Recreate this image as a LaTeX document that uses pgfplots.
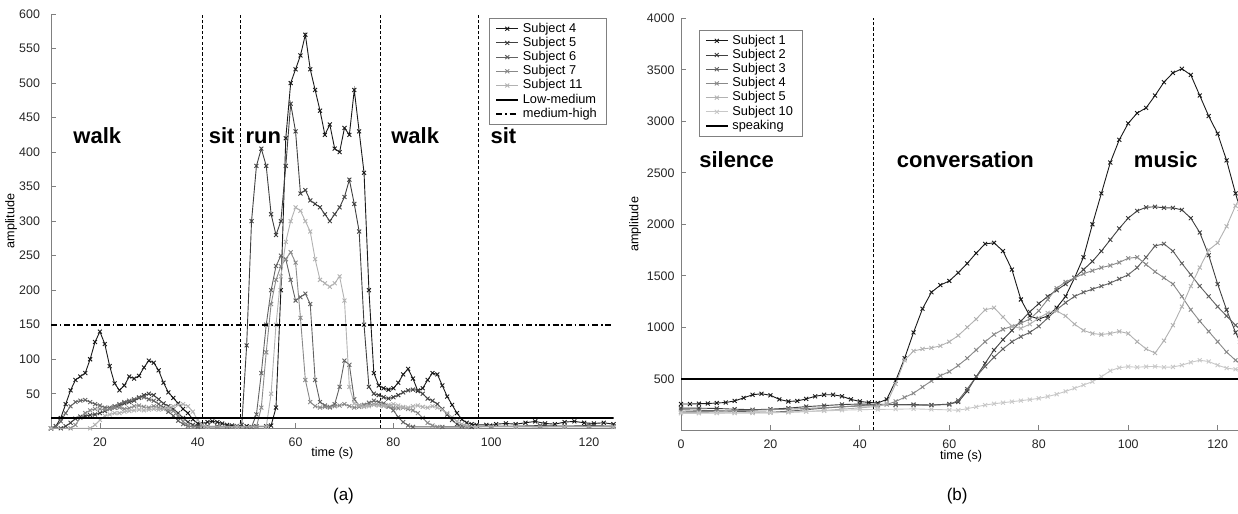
\documentclass[border=0pt]{standalone}
\usepackage{fontspec}
\setmainfont{Liberation Sans}
\usepackage{pgfplots}
\pgfplotsset{compat=1.18}

\definecolor{ga}{HTML}{1A1A1A}
\definecolor{gb}{HTML}{404040}
\definecolor{gc}{HTML}{626262}
\definecolor{gd}{HTML}{898989}
\definecolor{ge}{HTML}{B2B2B2}
\definecolor{gf}{HTML}{C8C8C8}
\definecolor{axisgray}{HTML}{808080}

\tikzset{phase/.style={font=\fontsize{11}{13}\selectfont\bfseries, inner sep=0pt}}

\pgfplotsset{
  panel/.style={
    scale only axis,
    clip mode=individual,
    axis x line*=bottom, axis y line*=left,
    axis line style={axisgray, line width=0.5pt},
    tick align=inside,
    major tick length=2.5pt,
    tick style={axisgray, line width=0.4pt},
    tick label style={font=\fontsize{6.2}{7}\selectfont, text=black!85},
    xticklabel style={yshift=-1pt},
    /pgf/number format/assume math mode=true,
    /pgf/number format/1000 sep={},
    label style={font=\fontsize{6.3}{7}\selectfont},
    legend style={draw=axisgray, line width=0.5pt, fill=white,
      font=\fontsize{6.4}{7}\selectfont, inner xsep=2.8pt, inner ysep=1.5pt,
      nodes={inner ysep=0.6pt, inner xsep=1.9pt, text height=4.6pt, text depth=1.3pt}},
    legend cell align=left,
    legend image code/.code={\draw[mark repeat=2,mark phase=2]
      plot coordinates {(0cm,0cm)(0.19cm,0cm)(0.38cm,0cm)};},
  },
  subj/.style={color=#1, mark=x, mark size=1.4pt, line width=0.45pt,
    mark options={line width=0.45pt, solid}},
  vline/.style={black, line width=0.4pt, dash pattern=on 1.6pt off 1.1pt, forget plot},
}

\begin{document}
\begin{tikzpicture}
\useasboundingbox (0,0) rectangle (619pt,257pt);

% ---------------- (a) activity ----------------
\begin{axis}[panel,
  at={(25.5pt,42.85pt)}, anchor=south west,
  width=281.25pt, height=207.15pt,
  xmin=10, xmax=125, ymin=0, ymax=600,
  xtick={20,40,...,120}, ytick={50,100,...,600},
  yticklabel style={xshift=-2pt},
  xlabel={time (s)}, ylabel={amplitude},
  xlabel style={at={(axis description cs:0.5,-0.06)}, anchor=center},
  ylabel style={at={(axis description cs:-0.071,0.5)}, anchor=center},
  legend style={at={(0.988,0.990)}, anchor=north east},
]
\addplot[vline] coordinates {(41,0)(41,600)};
\addplot[vline] coordinates {(48.7,0)(48.7,600)};
\addplot[vline] coordinates {(77.3,0)(77.3,600)};
\addplot[vline] coordinates {(97.3,0)(97.3,600)};

\addplot[subj=ga] coordinates {(10,0)(11,3)(12,15)(13,35)(14,55)(15,70)(16,75)(17,80)(18,100)(19,125)(20,140)(21,122)(22,90)(23,65)(24,55)(25,62)(26,75)(27,72)(28,76)(29,88)(30,98)(31,95)(32,84)(33,66)(34,52)(35,44)(36,36)(37,28)(38,22)(39,13)(40,7)(41,6)(42,9)(43,10)(44,9)(45,7)(46,5)(47,4)(48,3)(50,3)(52,3)(54,3)(55,4)(56,30)(57,200)(58,420)(59,500)(60,520)(61,540)(62,570)(63,520)(64,490)(65,460)(66,425)(67,440)(68,405)(69,400)(70,435)(71,425)(72,490)(73,430)(74,370)(75,200)(76,80)(77,62)(78,58)(79,56)(80,58)(81,66)(82,78)(83,86)(84,72)(85,54)(86,58)(87,70)(88,80)(89,78)(90,62)(91,46)(92,34)(93,22)(94,13)(95,8)(96,6)(97,5)(99,5)(101,6)(103,7)(105,6)(107,8)(109,10)(111,7)(113,6)(115,9)(117,10)(119,8)(121,7)(123,8)(125,6)};
\addlegendentry{Subject 4}
\addplot[subj=gb] coordinates {(10,0)(12,0)(13,3)(14,8)(15,14)(16,17)(17,18)(18,19)(19,20)(20,22)(21,25)(22,28)(23,30)(24,33)(25,36)(26,38)(27,40)(28,44)(29,48)(30,50)(31,48)(32,42)(33,36)(34,32)(35,28)(36,22)(37,15)(38,9)(39,5)(40,3)(42,3)(44,3)(46,3)(48,3)(49,5)(50,120)(51,300)(52,380)(53,405)(54,380)(55,310)(56,280)(57,300)(58,380)(59,470)(60,430)(61,340)(62,345)(63,330)(64,325)(65,320)(66,310)(67,300)(68,310)(69,320)(70,335)(71,360)(72,325)(73,285)(74,150)(75,60)(76,50)(77,48)(78,45)(79,43)(80,45)(81,48)(82,52)(83,55)(84,56)(85,55)(86,50)(87,43)(88,40)(89,35)(90,28)(91,20)(92,12)(93,6)(94,3)(96,2)(100,3)(105,3)(110,4)(115,3)(120,4)(125,3)};
\addlegendentry{Subject 5}
\addplot[subj=gc] coordinates {(10,0)(11,3)(12,10)(13,22)(14,32)(15,38)(16,40)(17,41)(18,38)(19,35)(20,33)(21,30)(22,30)(23,32)(24,35)(25,38)(26,40)(27,42)(28,45)(29,45)(30,42)(31,40)(32,35)(33,30)(34,24)(35,18)(36,11)(37,6)(38,3)(40,2)(44,2)(48,2)(51,2)(52,20)(53,80)(54,150)(55,200)(56,235)(57,250)(58,245)(59,215)(60,185)(61,190)(62,195)(63,180)(64,70)(65,38)(66,33)(67,31)(68,35)(69,60)(70,98)(71,92)(72,42)(73,33)(74,34)(75,37)(76,40)(77,38)(78,36)(79,32)(80,26)(81,16)(82,9)(83,4)(84,2)(90,2)(95,2)(100,3)(110,3)(120,3)(125,3)};
\addlegendentry{Subject 6}
\addplot[subj=gd] coordinates {(10,0)(14,0)(15,5)(16,15)(17,22)(18,26)(19,28)(20,28)(21,27)(22,28)(23,30)(24,30)(25,28)(26,29)(27,32)(28,33)(29,31)(30,30)(31,32)(32,30)(33,28)(34,27)(35,25)(36,18)(37,10)(38,4)(39,2)(44,2)(48,2)(52,2)(53,30)(54,110)(55,180)(56,215)(57,235)(58,245)(59,255)(60,240)(61,160)(62,70)(63,38)(64,32)(65,30)(66,31)(67,30)(68,32)(69,33)(70,35)(71,32)(72,30)(73,31)(74,33)(75,34)(76,35)(77,34)(78,33)(79,31)(80,30)(81,29)(82,30)(83,28)(84,26)(85,22)(86,15)(87,8)(88,4)(89,2)(95,2)(100,3)(110,2)(120,3)(125,2)};
\addlegendentry{Subject 7}
\addplot[subj=ge] coordinates {(10,0)(18,0)(19,5)(20,12)(21,18)(22,20)(23,22)(24,22)(25,24)(26,25)(27,26)(28,27)(29,26)(30,27)(31,28)(32,27)(33,28)(34,30)(35,32)(36,34)(37,35)(38,32)(39,24)(40,12)(41,5)(42,2)(48,2)(54,2)(55,50)(56,150)(57,220)(58,270)(59,300)(60,320)(61,315)(62,300)(63,285)(64,245)(65,215)(66,210)(67,205)(68,210)(69,220)(70,185)(71,60)(72,36)(73,33)(74,31)(75,32)(76,34)(77,33)(78,32)(79,34)(80,35)(81,33)(82,31)(83,30)(84,32)(85,33)(86,31)(87,30)(88,32)(89,30)(90,27)(91,22)(92,16)(93,10)(94,6)(95,4)(97,2)(105,2)(115,2)(125,2)};
\addlegendentry{Subject 11}
\addplot[black, line width=1pt] coordinates {(10,15)(125,15)};
\addlegendentry{Low-medium}
\addplot[black, line width=0.8pt, dash pattern=on 3pt off 1.4pt on 0.8pt off 1.4pt] coordinates {(10,150)(125,150)};
\addlegendentry{medium-high}

\node[phase, anchor=base west] at (axis cs:14.5,413) {walk};
\node[phase, anchor=base west] at (axis cs:42.2,413) {sit};
\node[phase, anchor=base west] at (axis cs:49.7,413) {run};
\node[phase, anchor=base west] at (axis cs:79.5,413) {walk};
\node[phase, anchor=base west] at (axis cs:99.8,413) {sit};
\node[font=\fontsize{8.5}{10}\selectfont] at (axis description cs:0.52,-0.163) {(a)};
\end{axis}

% ---------------- (b) audio ----------------
\begin{axis}[panel,
  at={(340.5pt,41.85pt)}, anchor=south west,
  width=279.5pt, height=206pt,
  xmin=0, xmax=125, ymin=0, ymax=4000,
  xtick={0,20,...,120}, ytick={500,1000,...,4000},
  yticklabel style={xshift=0.3pt},
  xlabel={time (s)}, ylabel={amplitude},
  xlabel style={at={(axis description cs:0.501,-0.064)}, anchor=center},
  ylabel style={at={(axis description cs:-0.082,0.5)}, anchor=center},
  legend style={at={(0.032,0.971)}, anchor=north west},
]
\addplot[vline] coordinates {(43,0)(43,4000)};

\addplot[subj=ga] coordinates {(0,255)(2,255)(4,258)(6,260)(8,265)(10,270)(12,285)(14,315)(16,345)(18,355)(20,340)(22,300)(24,280)(26,285)(28,305)(30,330)(32,345)(34,345)(36,330)(38,300)(40,280)(42,270)(44,265)(46,300)(48,480)(50,700)(52,950)(54,1180)(56,1340)(58,1410)(60,1450)(62,1530)(64,1620)(66,1720)(68,1810)(70,1820)(72,1740)(74,1560)(76,1270)(78,1110)(80,1080)(82,1110)(84,1190)(86,1300)(88,1480)(90,1680)(92,2000)(94,2300)(96,2600)(98,2820)(100,2980)(102,3080)(104,3130)(106,3250)(108,3380)(110,3470)(112,3510)(114,3450)(116,3250)(118,3050)(120,2880)(122,2620)(124,2300)(125,2150)};
\addlegendentry{Subject 1}
\addplot[subj=gb] coordinates {(0,215)(4,215)(8,212)(12,205)(16,200)(20,205)(24,215)(28,230)(32,240)(36,250)(40,255)(44,252)(48,250)(52,250)(56,245)(60,255)(62,275)(64,380)(66,520)(68,650)(70,780)(72,880)(74,970)(76,1060)(78,1150)(80,1230)(82,1300)(84,1360)(86,1420)(88,1480)(90,1560)(92,1640)(94,1740)(96,1850)(98,1960)(100,2060)(102,2130)(104,2165)(106,2170)(108,2160)(110,2160)(112,2140)(114,2060)(116,1920)(118,1700)(120,1420)(122,1170)(124,950)(125,860)};
\addlegendentry{Subject 2}
\addplot[subj=gc] coordinates {(0,200)(4,195)(8,190)(12,185)(16,178)(20,175)(24,185)(28,200)(32,215)(36,228)(40,240)(44,250)(48,248)(52,245)(56,245)(60,250)(62,290)(64,400)(66,520)(68,620)(70,710)(72,790)(74,860)(76,910)(78,950)(80,1010)(82,1090)(84,1170)(86,1240)(88,1300)(90,1340)(92,1370)(94,1400)(96,1430)(98,1470)(100,1510)(102,1580)(104,1680)(106,1790)(108,1810)(110,1740)(112,1620)(114,1510)(116,1400)(118,1300)(120,1200)(122,1110)(124,1020)(125,980)};
\addlegendentry{Subject 3}
\addplot[subj=gd] coordinates {(0,180)(4,182)(8,185)(12,190)(16,195)(20,200)(24,205)(28,212)(32,220)(36,228)(40,235)(44,240)(46,250)(48,280)(50,320)(52,360)(54,420)(56,480)(58,530)(60,570)(62,630)(64,700)(66,780)(68,860)(70,930)(72,980)(74,1010)(76,1040)(78,1080)(80,1160)(82,1270)(84,1380)(86,1440)(88,1480)(90,1520)(92,1550)(94,1580)(96,1600)(98,1630)(100,1670)(102,1680)(104,1610)(106,1540)(108,1480)(110,1420)(112,1300)(114,1170)(116,1060)(118,960)(120,860)(122,760)(124,680)(125,650)};
\addlegendentry{Subject 4}
\addplot[subj=ge] coordinates {(0,175)(4,172)(8,170)(12,168)(16,168)(20,170)(24,175)(28,182)(32,192)(36,205)(40,218)(44,232)(46,260)(48,450)(50,680)(52,770)(54,790)(56,800)(58,820)(60,860)(62,920)(64,1000)(66,1080)(68,1170)(70,1190)(72,1100)(74,1010)(76,990)(78,1030)(80,1090)(82,1140)(84,1160)(86,1110)(88,1030)(90,970)(92,940)(94,930)(96,940)(98,960)(100,940)(102,860)(104,790)(106,750)(108,870)(110,1020)(112,1200)(114,1400)(116,1580)(118,1750)(120,1820)(122,1980)(124,2180)(125,2260)};
\addlegendentry{Subject 5}
\addplot[subj=gf] coordinates {(0,165)(4,165)(8,167)(12,168)(16,170)(20,172)(24,176)(28,182)(32,188)(36,195)(40,200)(44,203)(48,205)(52,208)(56,203)(60,198)(62,195)(64,210)(66,228)(68,245)(70,258)(72,268)(74,278)(76,288)(78,298)(80,310)(82,328)(84,350)(86,378)(88,408)(90,440)(92,472)(94,520)(96,578)(98,608)(100,618)(102,612)(104,618)(106,620)(108,612)(110,615)(112,632)(114,660)(116,680)(118,668)(120,632)(122,604)(124,592)(125,590)};
\addlegendentry{Subject 10}
\addplot[black, line width=1pt] coordinates {(0,500)(125,500)};
\addlegendentry{speaking}

\node[phase, anchor=base west] at (axis cs:4.0,2547) {silence};
\node[phase, anchor=base west] at (axis cs:48.2,2547) {conversation};
\node[phase, anchor=base west] at (axis cs:101.2,2547) {music};
\node[font=\fontsize{8.5}{10}\selectfont] at (axis description cs:0.494,-0.160) {(b)};
\end{axis}
\end{tikzpicture}
\end{document}
